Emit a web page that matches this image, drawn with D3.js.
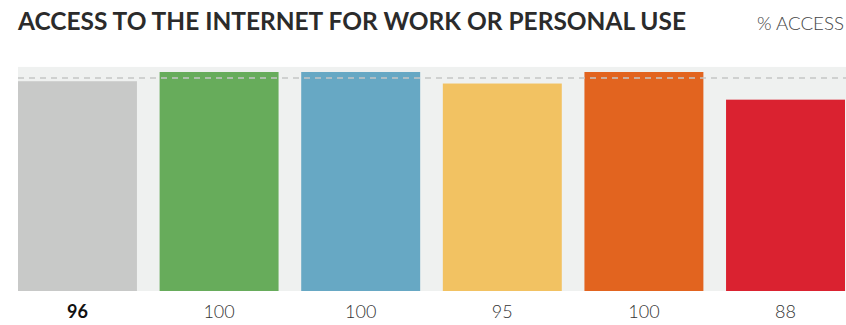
<!DOCTYPE html>
<html>
<head>
<meta charset="utf-8">
<script src="https://cdn.jsdelivr.net/npm/d3@7"></script>
<style>
  body { margin: 0; background: #fff; }
  svg { display: block; }
</style>
</head>
<body>
<div id="chart"></div>
<script>
const title = 'ACCESS TO THE INTERNET FOR WORK OR PERSONAL USE';
const unitLabel = '% ACCESS';
const groups = ['g1', 'g2', 'g3', 'g4', 'g5', 'g6'];
const values = [96, 100, 100, 95, 100, 88];
const barColors = ['#c8c9c8', '#67ac5b', '#67a8c4', '#f2c262', '#e2641f', '#da2230'];
const highlight = ['g1'];
const benchmark = [97.4];

const width = 846, height = 325;
const margin = {top: 72, right: 1, bottom: 34, left: 18};

const svg = d3.select('#chart').append('svg')
  .attr('width', width)
  .attr('height', height);

const x = d3.scaleBand()
  .domain(groups)
  .range([margin.left, width - margin.right])
  .paddingInner(0.16)
  .paddingOuter(0);

const y = d3.scaleLinear()
  .domain([5, 100])
  .range([height - margin.bottom, margin.top]);

// title + unit
svg.append('text')
  .attr('x', 18).attr('y', 30)
  .attr('font-family', 'Lato, sans-serif')
  .attr('font-weight', 700)
  .attr('font-size', 25)
  .attr('fill', '#2b2b2b')
  .attr('textLength', 668)
  .attr('lengthAdjust', 'spacingAndGlyphs')
  .text(title);

svg.append('text')
  .attr('x', 844).attr('y', 30)
  .attr('text-anchor', 'end')
  .attr('font-family', 'Lato, sans-serif')
  .attr('font-weight', 300)
  .attr('font-size', 17)
  .attr('fill', '#444')
  .attr('textLength', 87)
  .attr('lengthAdjust', 'spacingAndGlyphs')
  .text(unitLabel);

// background panel
svg.append('rect')
  .attr('x', margin.left)
  .attr('y', y(102.2))
  .attr('width', width - margin.left)
  .attr('height', y(5) - y(102.2))
  .attr('fill', '#eff1f0');

// bars
svg.append('g')
  .selectAll('rect')
  .data(groups)
  .join('rect')
  .attr('x', d => x(d))
  .attr('y', (d, i) => y(values[i]))
  .attr('width', x.bandwidth())
  .attr('height', (d, i) => y(5) - y(values[i]))
  .attr('fill', (d, i) => barColors[i]);

// dashed reference line
svg.append('line')
  .attr('x1', margin.left)
  .attr('x2', width)
  .attr('y1', y(benchmark[0]))
  .attr('y2', y(benchmark[0]))
  .attr('stroke', '#c4c6c5')
  .attr('stroke-opacity', 0.75)
  .attr('stroke-width', 2)
  .attr('stroke-dasharray', '6,5');

// value labels
svg.append('g')
  .selectAll('text')
  .data(groups)
  .join('text')
  .attr('x', d => x(d) + x.bandwidth() / 2)
  .attr('y', 318)
  .attr('text-anchor', 'middle')
  .attr('font-family', 'Lato, sans-serif')
  .attr('font-size', 18)
  .attr('font-weight', d => highlight.includes(d) ? 700 : 300)
  .attr('fill', d => highlight.includes(d) ? '#111' : '#333')
  .text((d, i) => values[i]);
</script>
</body>
</html>
